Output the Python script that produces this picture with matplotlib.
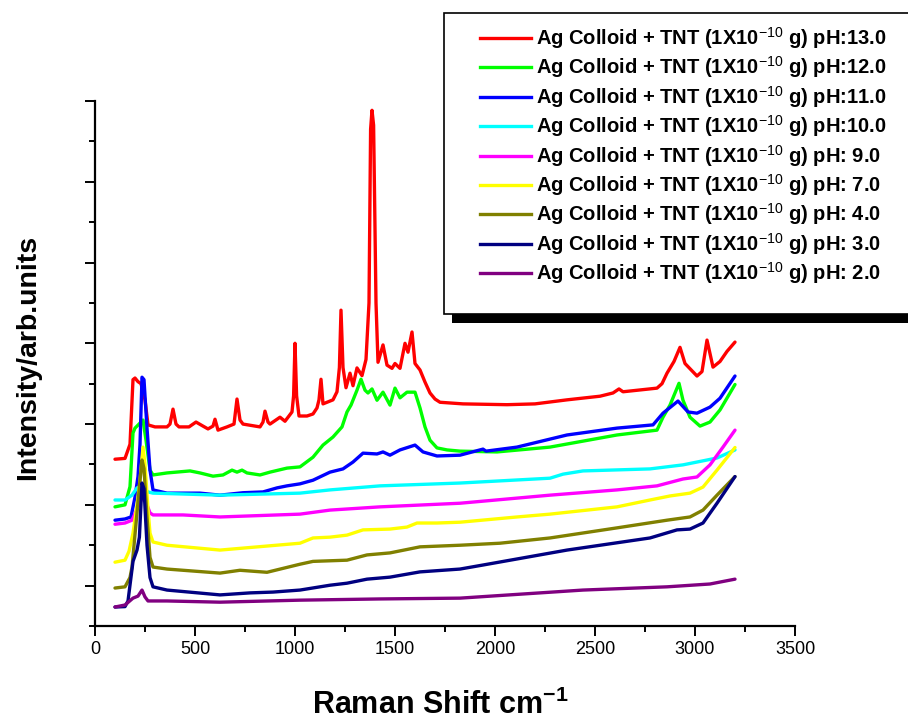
import matplotlib
matplotlib.use("Agg")
import matplotlib.pyplot as plt
from matplotlib.patches import Rectangle
from matplotlib.lines import Line2D
from matplotlib.ticker import MultipleLocator, FixedLocator, NullFormatter

plt.rcParams['font.family'] = ['Liberation Sans', 'DejaVu Sans']
plt.rcParams['mathtext.fontset'] = 'custom'
plt.rcParams['mathtext.rm'] = 'Liberation Sans'
plt.rcParams['mathtext.bf'] = 'Liberation Sans:bold'

# ---------------- data (Raman shift cm^-1, intensity arb. units) ----------------
x_ph13 = [100, 150, 175, 190, 200, 215, 230, 250, 265, 300, 360, 375, 390, 405, 420, 470, 505, 540, 565,
          590, 600, 615, 660, 695, 710, 725, 740, 825, 840, 850, 865, 875, 925, 950, 985, 993, 1000, 1008,
          1020, 1060, 1090, 1110, 1120, 1130, 1140, 1190, 1210, 1222, 1230, 1240, 1255, 1275, 1290, 1310,
          1335, 1355, 1370, 1378, 1385, 1393, 1405, 1415, 1440, 1460, 1485, 1500, 1525, 1550, 1565, 1585,
          1600, 1625, 1650, 1675, 1700, 1725, 1840, 2060, 2200, 2360, 2525, 2590, 2620, 2640, 2810, 2835,
          2860, 2895, 2925, 2950, 3010, 3035, 3060, 3090, 3125, 3160, 3200]
y_ph13 = [4.13, 4.15, 4.5, 6.1, 6.14, 6.05, 6.0, 5.6, 4.98, 4.93, 4.93, 5.0, 5.37, 5.0, 4.93, 4.93, 5.05,
          4.95, 4.88, 4.95, 5.12, 4.85, 4.93, 5.0, 5.62, 5.1, 5.0, 4.93, 5.05, 5.32, 5.05, 5.0, 5.17, 5.07,
          5.3, 5.7, 7.0, 5.7, 5.2, 5.2, 5.25, 5.4, 5.6, 6.11, 5.5, 5.6, 5.8, 6.4, 7.82, 6.4, 5.9, 6.26,
          5.95, 6.39, 6.2, 6.6, 8.0, 12.3, 12.77, 12.4, 8.0, 6.53, 6.96, 6.46, 6.38, 6.5, 6.38, 7.0, 6.78,
          7.28, 6.5, 6.34, 6.04, 5.77, 5.62, 5.54, 5.5, 5.48, 5.5, 5.6, 5.69, 5.77, 5.87, 5.8, 5.89, 6.0,
          6.26, 6.55, 6.9, 6.5, 6.19, 6.3, 7.08, 6.41, 6.55, 6.8, 7.03]

x_ph12 = [100, 150, 175, 190, 200, 220, 240, 255, 275, 290, 360, 475, 525, 590, 640, 685, 710, 735, 760,
          825, 875, 960, 1025, 1090, 1140, 1190, 1235, 1260, 1280, 1310, 1330, 1350, 1365, 1385, 1410,
          1440, 1475, 1500, 1525, 1560, 1600, 1625, 1650, 1675, 1710, 1760, 1825, 2010, 2275, 2610, 2810,
          2840, 2875, 2920, 2940, 2975, 3025, 3075, 3125, 3200]
y_ph12 = [2.95, 3.0, 3.45, 4.78, 4.9, 5.0, 5.1, 4.6, 3.86, 3.74, 3.79, 3.84, 3.79, 3.71, 3.74, 3.86, 3.81,
          3.86, 3.79, 3.74, 3.81, 3.91, 3.94, 4.18, 4.48, 4.68, 4.93, 5.3, 5.47, 5.84, 6.11, 5.84, 5.77,
          5.87, 5.59, 5.79, 5.47, 5.89, 5.65, 5.79, 5.79, 5.4, 4.93, 4.6, 4.41, 4.36, 4.33, 4.31, 4.43,
          4.73, 4.85, 5.17, 5.47, 6.01, 5.59, 5.17, 4.95, 5.05, 5.35, 5.98]

x_ph11 = [100, 150, 180, 200, 215, 225, 235, 245, 260, 275, 290, 360, 525, 625, 740, 840, 910, 960, 1025,
          1090, 1175, 1240, 1290, 1340, 1410, 1440, 1475, 1525, 1600, 1640, 1710, 1825, 1940, 1955, 2110,
          2360, 2610, 2790, 2840, 2915, 2965, 3010, 3075, 3125, 3200]
y_ph11 = [2.62, 2.65, 2.7, 3.19, 3.7, 4.5, 6.16, 6.1, 4.9, 3.86, 3.37, 3.29, 3.29, 3.24, 3.3, 3.32, 3.42,
          3.47, 3.52, 3.61, 3.81, 3.89, 4.06, 4.28, 4.26, 4.31, 4.23, 4.36, 4.48, 4.31, 4.21, 4.23, 4.38,
          4.33, 4.43, 4.73, 4.9, 4.98, 5.27, 5.57, 5.3, 5.27, 5.42, 5.64, 6.19]

x_ph10 = [100, 150, 185, 210, 235, 265, 290, 625, 1025, 1175, 1425, 1825, 2275, 2340, 2440, 2775, 2940,
          3110, 3200]
y_ph10 = [3.12, 3.12, 3.24, 3.42, 3.44, 3.32, 3.29, 3.24, 3.29, 3.37, 3.47, 3.54, 3.66, 3.76, 3.84, 3.89,
          3.99, 4.16, 4.36]

x_ph9 = [100, 150, 185, 215, 240, 260, 275, 290, 440, 625, 1025, 1175, 1425, 1825, 2275, 2610, 2810,
         2940, 3010, 3075, 3140, 3200]
y_ph9 = [2.52, 2.55, 2.62, 2.95, 3.2, 3.0, 2.8, 2.75, 2.75, 2.70, 2.77, 2.87, 2.95, 3.04, 3.24, 3.37,
         3.47, 3.64, 3.69, 3.99, 4.43, 4.85]

x_ph7 = [100, 150, 170, 190, 210, 225, 240, 250, 265, 275, 290, 360, 625, 1025, 1090, 1175, 1260, 1340,
         1475, 1560, 1610, 1710, 1825, 2110, 2275, 2610, 2775, 2875, 2975, 3040, 3110, 3200]
y_ph7 = [1.58, 1.63, 1.85, 2.3, 3.0, 3.6, 4.43, 4.0, 2.9, 2.3, 2.08, 2.0, 1.88, 2.05, 2.18, 2.2, 2.25,
         2.38, 2.4, 2.45, 2.55, 2.55, 2.57, 2.7, 2.77, 2.95, 3.12, 3.22, 3.29, 3.44, 3.86, 4.42]

x_ph4 = [100, 150, 175, 185, 210, 225, 235, 245, 260, 275, 290, 360, 625, 725, 860, 1025, 1090, 1260,
         1360, 1475, 1625, 1825, 2025, 2275, 2610, 2860, 2975, 3040, 3110, 3200]
y_ph4 = [0.94, 0.97, 1.2, 1.46, 2.8, 3.6, 4.11, 3.9, 2.7, 1.7, 1.46, 1.41, 1.31, 1.38, 1.33, 1.53, 1.6,
         1.63, 1.76, 1.81, 1.96, 2.0, 2.05, 2.18, 2.43, 2.62, 2.70, 2.87, 3.24, 3.7]

x_ph3 = [100, 150, 165, 190, 210, 222, 235, 245, 260, 275, 290, 360, 625, 775, 890, 1025, 1175, 1260,
         1360, 1475, 1625, 1825, 1940, 2360, 2775, 2910, 2975, 3040, 3110, 3200]
y_ph3 = [0.47, 0.48, 0.62, 1.6, 1.88, 2.2, 3.54, 3.4, 2.0, 1.2, 0.97, 0.89, 0.77, 0.82, 0.84, 0.89, 1.01,
         1.06, 1.16, 1.21, 1.34, 1.41, 1.51, 1.88, 2.18, 2.38, 2.40, 2.55, 3.04, 3.7]

x_ph2 = [100, 150, 190, 215, 235, 250, 265, 360, 625, 1025, 1425, 1825, 2440, 2860, 3075, 3200]
y_ph2 = [0.47, 0.52, 0.69, 0.74, 0.89, 0.72, 0.62, 0.62, 0.59, 0.64, 0.67, 0.69, 0.89, 0.97, 1.04, 1.16]

labels = ["pH:13.0", "pH:12.0", "pH:11.0", "pH:10.0", "pH: 9.0", "pH: 7.0", "pH: 4.0", "pH: 3.0", "pH: 2.0"]
colors = ["#FF0000", "#00FF00", "#0000FF", "#00FFFF", "#FF00FF", "#FFFF00", "#808000", "#000080", "#800080"]
series_x = [x_ph13, x_ph12, x_ph11, x_ph10, x_ph9, x_ph7, x_ph4, x_ph3, x_ph2]
series_y = [y_ph13, y_ph12, y_ph11, y_ph10, y_ph9, y_ph7, y_ph4, y_ph3, y_ph2]
x_ticks = [0, 500, 1000, 1500, 2000, 2500, 3000, 3500]

# ---------------- figure ----------------
W, H = 908, 721
fig = plt.figure(figsize=(W / 100, H / 100), dpi=100)
ax = fig.add_axes([95 / W, 1 - 626 / H, (795 - 95) / W, (626 - 101) / H])

for xs, ys, c in zip(series_x, series_y, colors):
    ax.plot(xs, ys, color=c, lw=2.4, solid_joinstyle='round', solid_capstyle='round')

ax.set_xlim(0, 3500)
ax.set_ylim(0, 13)
ax.xaxis.set_major_locator(FixedLocator(x_ticks))
ax.xaxis.set_minor_locator(MultipleLocator(250))
ax.yaxis.set_major_locator(FixedLocator([1, 3, 5, 7, 9, 11, 13]))
ax.yaxis.set_minor_locator(FixedLocator([0, 2, 4, 6, 8, 10, 12]))
ax.yaxis.set_major_formatter(NullFormatter())
ax.tick_params(axis='both', which='major', direction='out', length=7, width=1.4, labelsize=13, pad=4)
ax.tick_params(axis='both', which='minor', direction='out', length=4, width=1.4)
for s in ['top', 'right']:
    ax.spines[s].set_visible(False)
for s in ['left', 'bottom']:
    ax.spines[s].set_linewidth(1.6)

fig.text(440 / W, 1 - 705 / H, r"Raman Shift cm$^{\mathbf{-1}}$", ha='center', va='center',
         fontsize=22, fontweight='bold')
fig.text(28 / W, 1 - 357 / H, "Intensity/arb.units", ha='center', va='center', rotation=90,
         fontsize=20.5, fontweight='bold')

# ---------------- legend (boxed, with drop shadow, clipped by figure edge) ----------------
fig.add_artist(Rectangle((452 / W, 1 - 323 / H), (W + 20 - 452) / W, 9 / H, transform=fig.transFigure,
                         facecolor='black', edgecolor='none', zorder=5))
fig.add_artist(Rectangle((444 / W, 1 - 314 / H), (W + 20 - 444) / W, (314 - 13) / H,
                         transform=fig.transFigure, facecolor='white', edgecolor='black', lw=1.2, zorder=6))
row0, dy = 38.0, 29.4
for i, (lab, c) in enumerate(zip(labels, colors)):
    yy = 1 - (row0 + i * dy) / H
    fig.add_artist(Line2D([480 / W, 531 / W], [yy, yy], transform=fig.transFigure, color=c, lw=2.4,
                          zorder=7))
    fig.text(536 / W, yy, r"Ag Colloid + TNT (1X10$^{-10}$ g) " + lab, ha='left', va='center',
             fontsize=14.5, fontweight='bold', zorder=8)

fig.savefig("out.png", dpi=100)
